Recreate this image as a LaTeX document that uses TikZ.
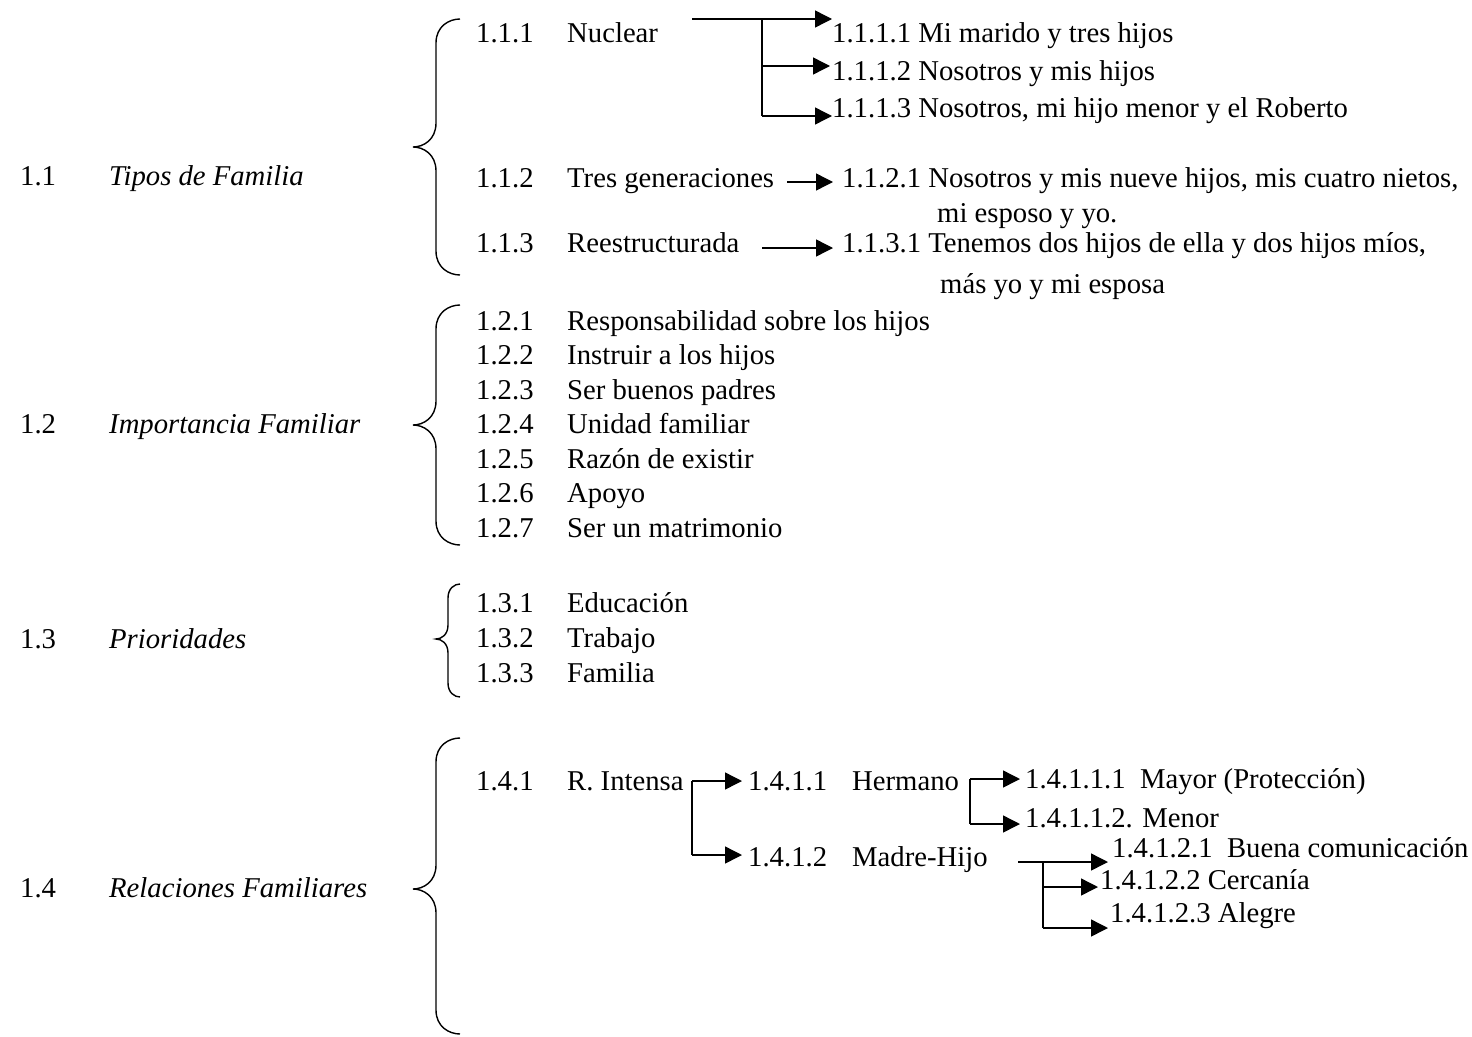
\documentclass[tikz,border=0pt]{standalone}
\usepackage{fontspec}
\setmainfont{Liberation Serif}
\usetikzlibrary{arrows.meta}
\newcommand\mybrc[7]{% xe xv xt T M B r
  \draw[brc] ({#1},{#4}) .. controls ({#2+0.55*(#1-#2)},{#4}) and ({#2},{#4+0.3*#7}) .. ({#2},{#4+#7})
    -- ({#2},{#5-#7}) .. controls ({#2},{#5-0.3*#7}) and ({#3+0.45*(#2-#3)},{#5}) .. ({#3},{#5})
    .. controls ({#3+0.45*(#2-#3)},{#5}) and ({#2},{#5+0.3*#7}) .. ({#2},{#5+#7})
    -- ({#2},{#6-#7}) .. controls ({#2},{#6-0.3*#7}) and ({#2+0.55*(#1-#2)},{#6}) .. ({#1},{#6});}
\begin{document}
\begin{tikzpicture}[x=1pt,y=-1pt,
  txt/.style={anchor=base west,inner sep=0pt,yshift=-10pt,font=\fontsize{28.7}{34}\selectfont},
  itx/.style={txt,font=\fontsize{28.7}{34}\selectfont\itshape},
  brc/.style={line width=1.4pt},
  con/.style={line width=1.4pt},
  arr/.style={con,-{Triangle[length=17pt,width=17pt]}}]
\useasboundingbox[fill=white] (0,0) rectangle (1472,1036);
% level 1
\node[txt] (n11) at (20,175) {1.1};
\node[itx] (t11) at (109,175) {Tipos de Familia};
\node[txt] (n12) at (20,423) {1.2};
\node[itx] (t12) at (109,423) {Importancia Familiar};
\node[txt] (n13) at (20,638) {1.3};
\node[itx] (t13) at (109,638) {Prioridades};
\node[txt] (n14) at (20,887) {1.4};
\node[itx] (t14) at (109,887) {Relaciones Familiares};
% braces
\mybrc{460}{436}{413}{19}{147}{275}{24}
\mybrc{460}{436}{413}{305}{425}{545}{24}
\mybrc{460}{448}{436}{584}{639}{697}{14}
\mybrc{460}{436}{413}{738}{889}{1034}{24}
% level 2
\node[txt] (n111) at (476,32) {1.1.1};  \node[txt] (t111) at (567,32) {Nuclear};
\node[txt] (n112) at (476,177) {1.1.2}; \node[txt] (t112) at (567,177) {Tres generaciones};
\node[txt] (n113) at (476,242) {1.1.3}; \node[txt] (t113) at (567,242) {Reestructurada};
\node[txt] (n121) at (476,320) {1.2.1}; \node[txt] (t121) at (567,320) {Responsabilidad sobre los hijos};
\node[txt] (n122) at (476,354) {1.2.2}; \node[txt] (t122) at (567,354) {Instruir a los hijos};
\node[txt] (n123) at (476,389) {1.2.3}; \node[txt] (t123) at (567,389) {Ser buenos padres};
\node[txt] (n124) at (476,423) {1.2.4}; \node[txt] (t124) at (567,423) {Unidad familiar};
\node[txt] (n125) at (476,458) {1.2.5}; \node[txt] (t125) at (567,458) {Razón de existir};
\node[txt] (n126) at (476,492) {1.2.6}; \node[txt] (t126) at (567,492) {Apoyo};
\node[txt] (n127) at (476,527) {1.2.7}; \node[txt] (t127) at (567,527) {Ser un matrimonio};
\node[txt] (n131) at (476,602) {1.3.1}; \node[txt] (t131) at (567,602) {Educación};
\node[txt] (n132) at (476,637) {1.3.2}; \node[txt] (t132) at (567,637) {Trabajo};
\node[txt] (n133) at (476,672) {1.3.3}; \node[txt] (t133) at (567,672) {Familia};
\node[txt] (n141) at (476,780) {1.4.1}; \node[txt] (t141) at (567,780) {R. Intensa};
% level 3
\node[txt] (a1111) at (832,32) {1.1.1.1 Mi marido y tres hijos};
\node[txt] (a1112) at (832,70) {1.1.1.2 Nosotros y mis hijos};
\node[txt] (a1113) at (832,107) {1.1.1.3 Nosotros, mi hijo menor y el Roberto};
\node[txt] (a1121) at (842,177) {1.1.2.1 Nosotros y mis nueve hijos, mis cuatro nietos,};
\node[txt] (a1121b) at (937,212) {mi esposo y yo.};
\node[txt] (a1131) at (842,242) {1.1.3.1 Tenemos dos hijos de ella y dos hijos míos,};
\node[txt] (a1131b) at (940,283) {más yo y mi esposa};
\node[txt] (n1411) at (748,780) {1.4.1.1}; \node[txt] (t1411) at (852,780) {Hermano};
\node[txt] (n1412) at (748,856) {1.4.1.2}; \node[txt] (t1412) at (852,856) {Madre-Hijo};
\node[txt] (a14111) at (1025,778) {1.4.1.1.1\ \ Mayor (Protección)};
\node[txt] (a14112) at (1025,817) {1.4.1.1.2. Menor};
\node[txt] (a14121) at (1112,847) {1.4.1.2.1\ \ Buena comunicación};
\node[txt] (a14122) at (1100,879) {1.4.1.2.2 Cercanía};
\node[txt] (a14123) at (1110,912) {1.4.1.2.3 Alegre};
% connectors
\coordinate (s1) at (692,19); \coordinate (j1) at (762,19);
\coordinate (j1b) at (762,66); \coordinate (j1c) at (762,116);
\draw[arr] (s1) -- (a1111.west |- s1);
\draw[con] (j1) -- (j1c);
\draw[arr] (j1b) -- ([xshift=-2pt]a1112.west |- j1b);
\draw[arr] (j1c) -- (a1111.west |- j1c);
\coordinate (s2) at (787,182);
\draw[arr] (s2) -- ([xshift=-9pt]a1121.west |- s2);
\coordinate (s3) at (762,248);
\draw[arr] (s3) -- ([xshift=-9pt]a1131.west |- s3);
\coordinate (s4) at (692,781); \coordinate (s4b) at (692,855);
\draw[arr] (s4) -- ([xshift=-6pt]n1411.west |- s4);
\draw[con] (s4) -- (s4b);
\draw[arr] (s4b) -- ([xshift=-6pt]n1412.west |- s4b);
\coordinate (s5) at (970,779); \coordinate (s5b) at (970,824);
\draw[arr] (s5) -- ([xshift=-5pt]a14111.west |- s5);
\draw[con] (s5) -- (s5b);
\draw[arr] (s5b) -- ([xshift=-5pt]a14112.west |- s5b);
\coordinate (s6) at (1018,862); \coordinate (j6) at (1043,862);
\coordinate (j6b) at (1043,887); \coordinate (j6c) at (1043,928);
\draw[arr] (s6) -- ([xshift=-4pt]a14121.west |- s6);
\draw[con] (j6) -- (j6c);
\draw[arr] (j6b) -- ([xshift=-2pt]a14122.west |- j6b);
\draw[arr] (j6c) -- ([xshift=-2pt]a14123.west |- j6c);
\end{tikzpicture}
\end{document}
